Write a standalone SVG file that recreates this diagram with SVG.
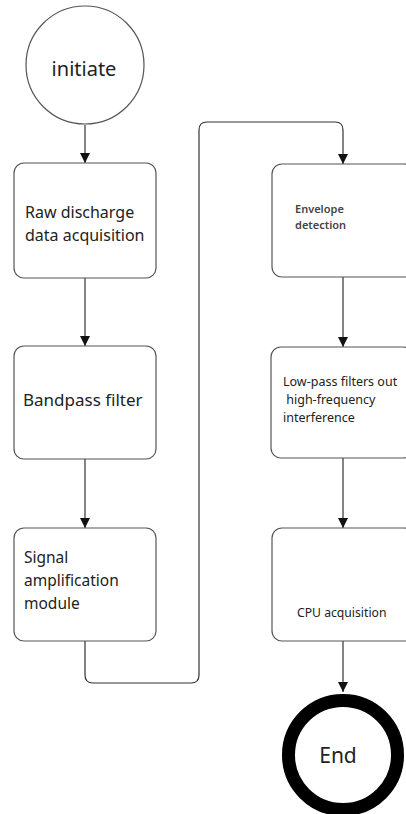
<svg xmlns="http://www.w3.org/2000/svg" width="406" height="814" viewBox="0 0 406 814">
<defs>
<marker id="ah" viewBox="0 0 10 10" refX="10" refY="5" markerWidth="10" markerHeight="10" markerUnits="userSpaceOnUse" orient="auto">
<path d="M0,0 L10,5 L0,10 Z" fill="#111"/>
</marker>
<style>
.box{fill:#fff;stroke:#555;stroke-width:1.2}
.edge{fill:none;stroke:#333;stroke-width:1.2;marker-end:url(#ah)}
.t{font-family:"Noto Sans","Open Sans",sans-serif;fill:#222}
</style>
</defs>
<rect width="406" height="814" fill="#fff"/>
<g id="connectors">
<path class="edge" d="M85,125 L85,163"/>
<path class="edge" d="M85,278 L85,346"/>
<path class="edge" d="M85,459 L85,528"/>
<path class="edge" d="M85,641 L85,675 Q85,683 93,683 L191,683 Q199,683 199,675 L199,130 Q199,122 207,122 L335,122 Q343,122 343,130 L343,164"/>
<path class="edge" d="M343,277 L343,347"/>
<path class="edge" d="M343,458 L343,528"/>
<path class="edge" d="M343,641 L343,692"/>
</g>
<g id="initiate">
<circle cx="85" cy="65" r="59" fill="#fff" stroke="#555" stroke-width="1.2"/>
<text class="t" x="84" y="76" font-size="20" text-anchor="middle">initiate</text>
</g>
<g id="raw">
<rect class="box" x="14" y="163" width="142" height="115" rx="10"/>
<text class="t" font-size="16"><tspan x="25" y="218">Raw discharge</tspan><tspan x="25" y="241">data acquisition</tspan></text>
</g>
<g id="bandpass">
<rect class="box" x="14" y="346" width="142" height="113" rx="10"/>
<text class="t" x="23" y="406" font-size="17">Bandpass filter</text>
</g>
<g id="amp">
<rect class="box" x="14" y="528" width="142" height="113" rx="10"/>
<text class="t" font-size="15.5"><tspan x="24" y="563">Signal</tspan><tspan x="24" y="586">amplification</tspan><tspan x="24" y="609">module</tspan></text>
</g>
<g id="envelope">
<rect class="box" x="272" y="164" width="142" height="113" rx="10"/>
<text class="t" font-size="11" font-weight="600" style="fill:#444"><tspan x="295" y="213">Envelope</tspan><tspan x="295" y="229">detection</tspan></text>
</g>
<g id="lowpass">
<rect class="box" x="271" y="347" width="142" height="111" rx="10"/>
<text class="t" font-size="12.5"><tspan x="283" y="386">Low-pass filters out</tspan><tspan x="283" y="404"> high-frequency</tspan><tspan x="283" y="422">interference</tspan></text>
</g>
<g id="cpu">
<rect class="box" x="272" y="528" width="142" height="113" rx="10"/>
<text class="t" x="297" y="617" font-size="12.2">CPU acquisition</text>
</g>
<g id="end">
<circle cx="343" cy="755" r="54.5" fill="#fff" stroke="#000" stroke-width="13"/>
<text class="t" x="338" y="763" font-size="21" text-anchor="middle">End</text>
</g>
</svg>
